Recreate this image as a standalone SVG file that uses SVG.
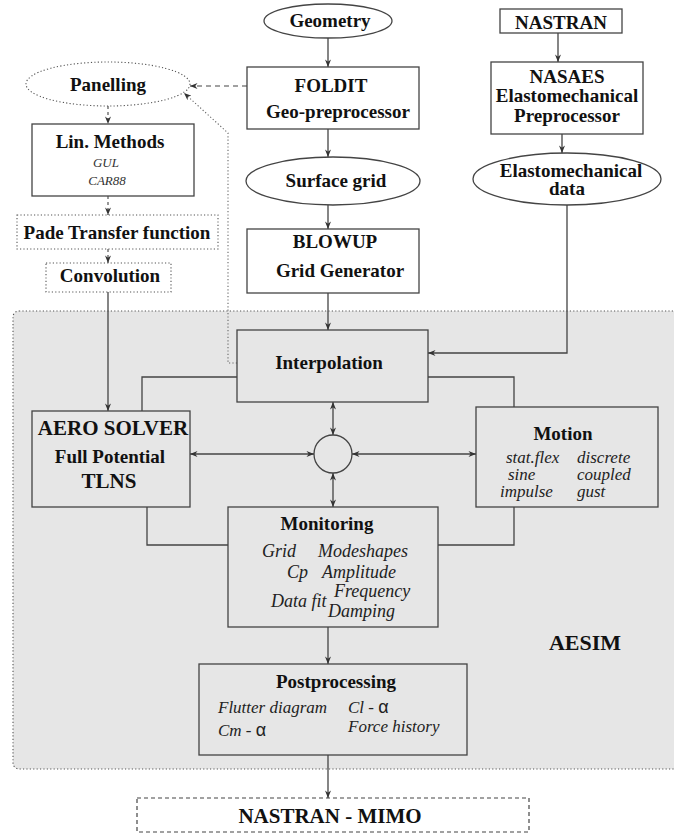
<svg xmlns="http://www.w3.org/2000/svg" width="674" height="835" viewBox="0 0 674 835">
<style>
.b{font-family:"Liberation Serif","Times New Roman",serif;font-weight:bold;font-size:19px;fill:#111;text-anchor:middle}
.i{font-family:"Liberation Serif","Times New Roman",serif;font-style:italic;font-size:18px;fill:#222}
.m{font-size:17px}
.s{font-family:"Liberation Sans",Arial,sans-serif;font-style:normal}
.n{fill:#fff;stroke:#444;stroke-width:1.3}
.g{fill:#e6e6e6;stroke:#444;stroke-width:1.3}
.dt{fill:#fff;stroke:#555;stroke-width:1.1;stroke-dasharray:1.2 2.2}
.c{fill:none;stroke:#444;stroke-width:1.3}
.dash{fill:none;stroke:#444;stroke-width:1.2;stroke-dasharray:5 4}
.sd{fill:none;stroke:#444;stroke-width:1.1;stroke-dasharray:3 3}
.dot{fill:none;stroke:#666;stroke-width:1.1;stroke-dasharray:1.2 2.2}
</style>
<defs>
<marker id="a" viewBox="0 0 10 8" refX="10" refY="4" markerWidth="9" markerHeight="6" markerUnits="userSpaceOnUse" orient="auto-start-reverse">
<path d="M0,0 L10,4 L0,8 L3,4 z" fill="#333"/>
</marker>
</defs>
<g id="aesim">
<rect x="13" y="311" width="680" height="458" rx="6" fill="#e6e6e6" stroke="#555" stroke-width="1.1" stroke-dasharray="1.2 2.2"/>
<text class="b" x="585" y="650" style="font-size:22px">AESIM</text>
</g>
<g id="connectors">
<line class="c" x1="328" y1="38" x2="328" y2="67" marker-end="url(#a)"/>
<line class="c" x1="328" y1="129" x2="328" y2="157" marker-end="url(#a)"/>
<line class="c" x1="328" y1="205" x2="328" y2="229" marker-end="url(#a)"/>
<line class="c" x1="328" y1="293" x2="328" y2="330" marker-end="url(#a)"/>
<line class="c" x1="558" y1="33" x2="558" y2="62" marker-end="url(#a)"/>
<line class="c" x1="562" y1="134" x2="562" y2="153" marker-end="url(#a)"/>
<polyline class="c" points="567,205 567,353 428,353" marker-end="url(#a)"/>
<line class="dash" x1="247" y1="86" x2="190" y2="86" marker-end="url(#a)"/>
<line class="sd" x1="108" y1="106" x2="108" y2="124" marker-end="url(#a)"/>
<line class="sd" x1="108" y1="196" x2="108" y2="215" marker-end="url(#a)"/>
<line class="sd" x1="108" y1="249" x2="108" y2="263" marker-end="url(#a)"/>
<line class="c" x1="108" y1="292" x2="108" y2="411" marker-end="url(#a)"/>
<polyline class="dot" points="237,363 228,363 228,133 184,93" marker-end="url(#a)"/>
<polyline class="c" points="237,377 142,377 142,411"/>
<polyline class="c" points="428,377 514,377 514,407"/>
<polyline class="c" points="147,507 147,545 228,545"/>
<polyline class="c" points="514,507 514,545 438,545"/>
<line class="c" x1="333" y1="402" x2="333" y2="435" marker-start="url(#a)" marker-end="url(#a)"/>
<line class="c" x1="333" y1="473" x2="333" y2="507" marker-start="url(#a)" marker-end="url(#a)"/>
<line class="c" x1="190" y1="454" x2="314" y2="454" marker-start="url(#a)" marker-end="url(#a)"/>
<line class="c" x1="352" y1="454" x2="476" y2="454" marker-start="url(#a)" marker-end="url(#a)"/>
<line class="c" x1="328" y1="627" x2="328" y2="664" marker-end="url(#a)"/>
<line class="c" x1="328" y1="755" x2="328" y2="798" marker-end="url(#a)"/>
</g>
<g id="geometry">
<ellipse class="n" cx="328" cy="21" rx="64" ry="17"/>
<text class="b" x="330" y="27">Geometry</text>
</g>
<g id="foldit">
<rect class="n" x="247" y="67" width="172" height="62"/>
<text class="b" x="331" y="92">FOLDIT</text>
<text class="b" x="338" y="118">Geo-preprocessor</text>
</g>
<g id="surface-grid">
<ellipse class="n" cx="333" cy="181" rx="87" ry="24"/>
<text class="b" x="336" y="187">Surface grid</text>
</g>
<g id="blowup">
<rect class="n" x="247" y="229" width="172" height="64"/>
<text class="b" x="335" y="248">BLOWUP</text>
<text class="b" x="340" y="277">Grid Generator</text>
</g>
<g id="nastran">
<rect class="n" x="500" y="9" width="122" height="24"/>
<text class="b" x="561" y="29">NASTRAN</text>
</g>
<g id="nasaes">
<rect class="n" x="491" y="62" width="152" height="72"/>
<text class="b" x="567" y="83">NASAES</text>
<text class="b" x="567" y="102">Elastomechanical</text>
<text class="b" x="567" y="122">Preprocessor</text>
</g>
<g id="elasto-data">
<ellipse class="n" cx="567" cy="179" rx="94" ry="26"/>
<text class="b" x="571" y="177">Elastomechanical</text>
<text class="b" x="567" y="195">data</text>
</g>
<g id="panelling">
<ellipse class="dt" cx="108" cy="84" rx="82" ry="22"/>
<text class="b" x="108" y="91">Panelling</text>
</g>
<g id="lin-methods">
<rect class="n" x="32" y="124" width="162" height="72"/>
<text class="b" x="110" y="148">Lin. Methods</text>
<text class="i" x="106" y="167" style="font-size:13px;text-anchor:middle;fill:#333">GUL</text>
<text class="i" x="107" y="185" style="font-size:13px;text-anchor:middle;fill:#333">CAR88</text>
</g>
<g id="pade">
<rect class="dt" x="17" y="215" width="201" height="34"/>
<text class="b" x="117" y="239">Pade Transfer function</text>
</g>
<g id="convolution">
<rect class="dt" x="46" y="263" width="125" height="29"/>
<text class="b" x="110" y="282">Convolution</text>
</g>
<g id="interpolation">
<rect class="g" x="237" y="330" width="191" height="72"/>
<text class="b" x="329" y="369">Interpolation</text>
</g>
<g id="junction">
<circle class="g" cx="333" cy="454" r="19"/>
</g>
<g id="aero-solver">
<rect class="g" x="32" y="411" width="158" height="96"/>
<text class="b" x="113" y="435" style="font-size:21px">AERO SOLVER</text>
<text class="b" x="110" y="463">Full Potential</text>
<text class="b" x="109" y="488" style="font-size:21px">TLNS</text>
</g>
<g id="motion">
<rect class="g" x="476" y="407" width="182" height="100"/>
<text class="b" x="563" y="440">Motion</text>
<text class="i m" x="506" y="463">stat.flex</text>
<text class="i m" x="508" y="480">sine</text>
<text class="i m" x="500" y="497">impulse</text>
<text class="i m" x="577" y="463">discrete</text>
<text class="i m" x="577" y="480">coupled</text>
<text class="i m" x="577" y="497">gust</text>
</g>
<g id="monitoring">
<rect class="g" x="228" y="507" width="210" height="120"/>
<text class="b" x="327" y="530">Monitoring</text>
<text class="i" x="262" y="557">Grid</text>
<text class="i" x="318" y="557">Modeshapes</text>
<text class="i" x="287" y="578">Cp</text>
<text class="i" x="322" y="578">Amplitude</text>
<text class="i" x="271" y="607">Data fit</text>
<text class="i" x="334" y="597">Frequency</text>
<text class="i" x="328" y="617">Damping</text>
</g>
<g id="postprocessing">
<rect class="g" x="199" y="664" width="268" height="91"/>
<text class="b" x="336" y="688">Postprocessing</text>
<text class="i" x="218" y="713" style="font-size:17px">Flutter diagram</text>
<text class="i" x="348" y="713" style="font-size:17px">Cl - <tspan class="s" style="font-size:18px">α</tspan></text>
<text class="i" x="218" y="736" style="font-size:17px">Cm - <tspan class="s" style="font-size:18px">α</tspan></text>
<text class="i" x="348" y="732" style="font-size:17px">Force history</text>
</g>
<g id="nastran-mimo">
<rect x="137" y="798" width="392" height="34" fill="#fff" stroke="#444" stroke-width="1.2" stroke-dasharray="4 3"/>
<text class="b" x="330" y="823" style="font-size:21px">NASTRAN - MIMO</text>
</g>
</svg>
